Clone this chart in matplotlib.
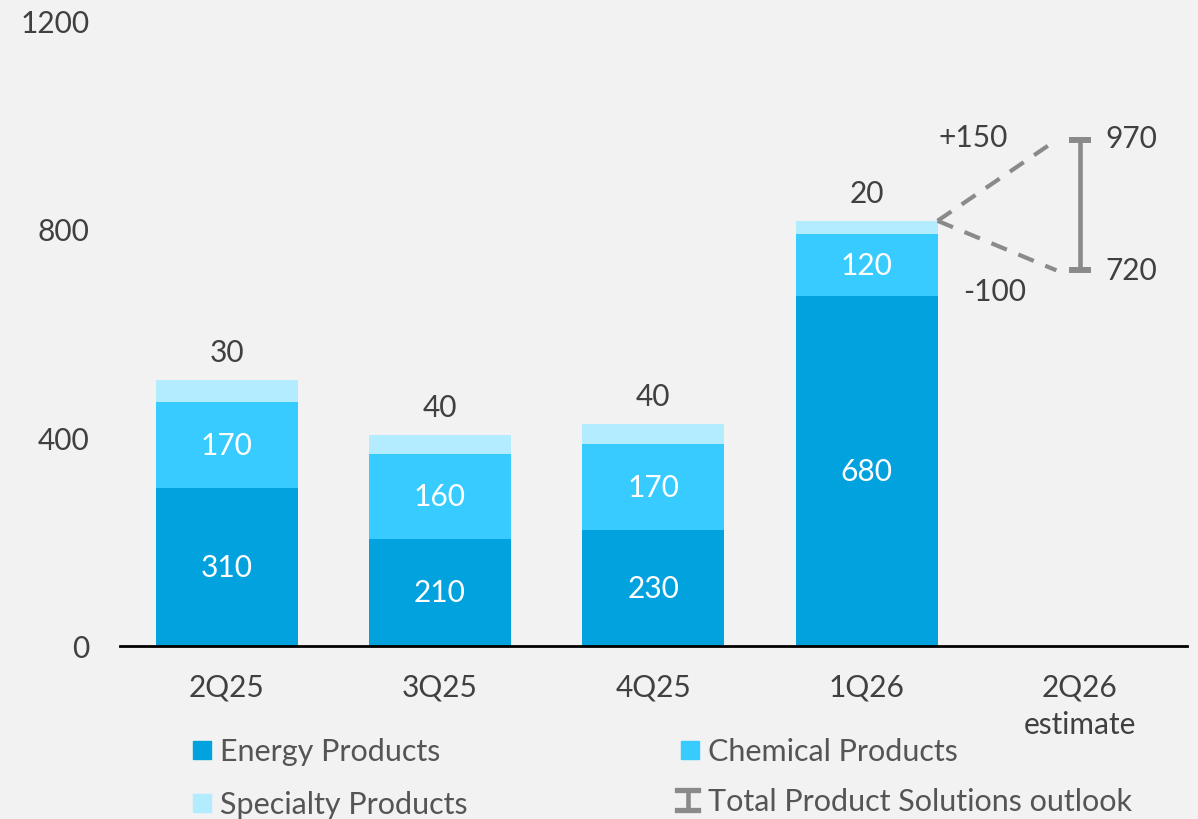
import matplotlib
matplotlib.use("Agg")
import matplotlib.pyplot as plt
from matplotlib.patches import Rectangle
from matplotlib.lines import Line2D

# ---- data ----
categories = ["2Q25", "3Q25", "4Q25", "1Q26", "2Q26\nestimate"]
energy = [303, 205, 222, 671]
chemical = [165, 163, 165, 118]
specialty = [42, 37, 38, 26]
energy_labels = ["310", "210", "230", "680"]
chemical_labels = ["170", "160", "170", "120"]
specialty_labels = ["30", "40", "40", "20"]
outlook_low = 720
outlook_high = 970
delta_up_label = "+150"
delta_down_label = "-100"
yticks = [0, 400, 800, 1200]

# ---- style ----
BG = "#f2f2f2"
C_ENERGY = "#02a2df"
C_CHEM = "#38cbff"
C_SPEC = "#b3ebff"
C_GRAY = "#8a8a8a"
C_TEXT = "#404040"
C_LEG = "#555555"
FONT = "Lato"
NUM_FS = 21.5
LEG_FS = 22

plt.rcParams["font.family"] = [FONT, "DejaVu Sans"]

W, H = 1198, 820
fig = plt.figure(figsize=(W / 100, H / 100), dpi=100, facecolor=BG)
ax = fig.add_axes([120 / W, 1 - 646.7 / H, (1186.5 - 120) / W, (646.7 - 21.1) / H])
ax.set_facecolor(BG)

x = list(range(len(energy)))
bw = 0.666
ax.bar(x, energy, width=bw, color=C_ENERGY, zorder=2)
bottom2 = [e for e in energy]
ax.bar(x, chemical, width=bw, bottom=bottom2, color=C_CHEM, zorder=2)
bottom3 = [e + c for e, c in zip(energy, chemical)]
ax.bar(x, specialty, width=bw, bottom=bottom3, color=C_SPEC, zorder=2)

for i in x:
    ax.text(i, energy[i] / 2, energy_labels[i], ha="center", va="center",
            color="white", fontsize=NUM_FS)
    ax.text(i, energy[i] + chemical[i] / 2, chemical_labels[i], ha="center",
            va="center", color="white", fontsize=NUM_FS)
    top = energy[i] + chemical[i] + specialty[i]
    ax.annotate(specialty_labels[i], (i, top), xytext=(0, 20),
                textcoords="offset points", ha="center", va="center",
                color=C_TEXT, fontsize=NUM_FS)

# outlook range
last_top = energy[-1] + chemical[-1] + specialty[-1]
est_x = len(categories) - 1
x0 = len(energy) - 1 + bw / 2
x1 = est_x - 0.11
ax.plot([x0, x1], [last_top, outlook_high], ls=(0, (4, 3)), lw=3, color=C_GRAY,
        zorder=3)
ax.plot([x0, x1], [last_top, outlook_low], ls=(0, (4, 3)), lw=3, color=C_GRAY,
        zorder=3)
mid = (outlook_low + outlook_high) / 2
half = (outlook_high - outlook_low) / 2
ax.errorbar([est_x], [mid], yerr=[[half], [half]], fmt="none", ecolor=C_GRAY,
            elinewidth=3.3, capsize=7.8, capthick=4.3, zorder=3)
ax.text(est_x + 0.24, outlook_high + 3, str(outlook_high), ha="center",
        va="center", color=C_TEXT, fontsize=NUM_FS)
ax.text(est_x + 0.24, outlook_low, str(outlook_low), ha="center",
        va="center", color=C_TEXT, fontsize=NUM_FS)
ax.text(3.498, 975, delta_up_label, ha="center", va="center", color=C_TEXT,
        fontsize=NUM_FS)
ax.text(3.60, 681, delta_down_label, ha="center", va="center", color=C_TEXT,
        fontsize=NUM_FS)

# axes
ax.set_xlim(-0.5, 4.5)
ax.set_ylim(0, 1200)
ax.set_yticks(yticks)
ax.set_yticklabels([str(t) for t in yticks])
ax.set_xticks(range(len(categories)))
ax.set_xticklabels(categories, linespacing=1.45)
ax.tick_params(axis="y", length=0, pad=22, labelsize=NUM_FS, labelcolor=C_TEXT)
ax.tick_params(axis="x", length=0, pad=19, labelsize=NUM_FS, labelcolor=C_TEXT)
for s in ["top", "right", "left"]:
    ax.spines[s].set_visible(False)
ax.spines["bottom"].set_linewidth(2)
ax.spines["bottom"].set_color("black")
ax.spines["bottom"].set_zorder(4)

# legend (manual)
def fx(px):
    return px / W

def fy(py):
    return 1 - py / H

legend_items = [
    ("Energy Products", C_ENERGY, 193, 751, "box"),
    ("Chemical Products", C_CHEM, 681, 751, "box"),
    ("Specialty Products", C_SPEC, 193, 804, "box"),
    ("Total Product Solutions outlook", C_GRAY, 677, 801, "ibeam"),
]
for label, col, px, py, kind in legend_items:
    if kind == "box":
        fig.patches.append(Rectangle((fx(px), fy(py + 9)), 18 / W, 18 / H,
                                     transform=fig.transFigure, color=col))
        tx = px + 27
    else:
        cx = px + 10.5
        fig.lines.append(Line2D([fx(cx), fx(cx)], [fy(py - 10), fy(py + 10)],
                                transform=fig.transFigure, color=col, lw=3.3))
        fig.lines.append(Line2D([fx(px), fx(px + 21)], [fy(py - 10), fy(py - 10)],
                                transform=fig.transFigure, color=col, lw=3.8))
        fig.lines.append(Line2D([fx(px), fx(px + 21)], [fy(py + 10), fy(py + 10)],
                                transform=fig.transFigure, color=col, lw=3.8))
        tx = px + 31
    fig.text(fx(tx), fy(py + 1), label, ha="left", va="center",
             fontsize=LEG_FS, color=C_LEG)

fig.savefig("out.png", dpi=100, facecolor=BG)
